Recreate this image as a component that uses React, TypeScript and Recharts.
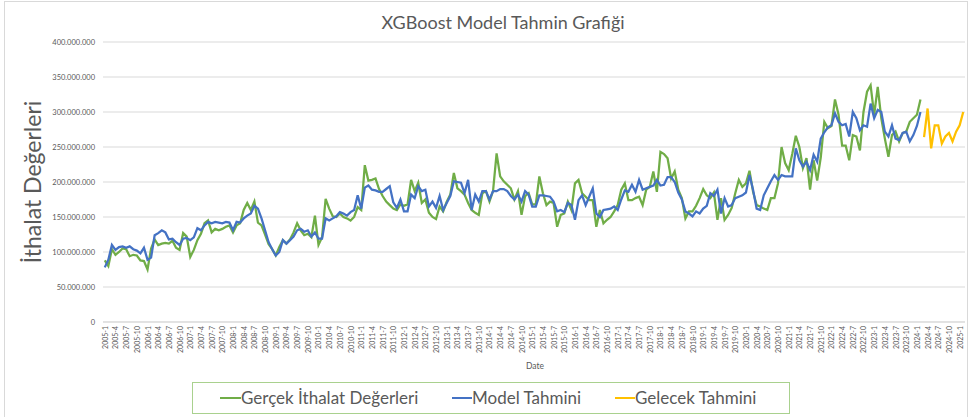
import React from 'react';
import { LineChart, Line, XAxis, YAxis, CartesianGrid } from 'recharts';

// Monthly categories 2005-1 .. 2025-2
const categories: string[] = [];
for (let y = 2005; y <= 2025; y++) {
  for (let m = 1; m <= 12; m++) {
    if (y === 2025 && m > 2) break;
    categories.push(`${y}-${m}`);
  }
}

// Values in millions
const actualValues: number[] = [
  88, 80, 104, 96, 100, 105, 104, 94, 96, 95, 88, 87,
  75, 105, 118, 110, 112, 113, 112, 116, 106, 103, 127, 122,
  93, 103, 117, 126, 141, 145, 128, 133, 131, 133, 136, 138,
  128, 138, 141, 160, 170, 160, 172, 142, 138, 125, 111, 104,
  95, 107, 117, 112, 118, 128, 141, 131, 124, 126, 121, 152,
  110, 121, 176, 162, 151, 150, 155, 150, 148, 145, 150, 164,
  160, 224, 202, 203, 205, 190, 180, 172, 167, 162, 160, 168,
  166, 168, 203, 187, 199, 170, 175, 156, 150, 147, 165, 158,
  172, 182, 213, 191, 187, 182, 170, 160, 156, 153, 184, 187,
  172, 187, 241, 208, 201, 196, 191, 175, 187, 153, 180, 184,
  168, 168, 208, 184, 167, 172, 170, 136, 153, 155, 172, 160,
  198, 203, 184, 179, 174, 174, 136, 160, 141, 146, 150, 158,
  167, 189, 198, 174, 174, 177, 179, 167, 189, 193, 215, 186,
  243, 240, 234, 205, 215, 189, 177, 148, 158, 158, 166, 177,
  190, 181, 177, 185, 146, 177, 146, 153, 163, 184, 203, 193,
  198, 216, 186, 167, 165, 162, 160, 177, 177, 198, 250, 227,
  217, 240, 266, 250, 220, 234, 189, 231, 202, 235, 286, 277,
  280, 318, 296, 252, 252, 231, 267, 265, 245, 300, 329, 338,
  296, 336, 291, 262, 236, 267, 272, 258, 270, 272, 286, 291,
  296, 318,
];

const modelValues: number[] = [
  78, 89, 110, 103, 107, 108, 106, 108, 104, 102, 98, 106,
  89, 92, 124, 127, 131, 128, 118, 119, 114, 110, 119, 120,
  117, 121, 134, 131, 138, 143, 141, 143, 142, 141, 143, 142,
  131, 143, 142, 148, 152, 155, 166, 162, 148, 131, 114, 104,
  95, 100, 117, 112, 117, 122, 131, 133, 129, 131, 122, 128,
  119, 119, 148, 145, 148, 151, 157, 155, 152, 157, 160, 181,
  162, 192, 195, 189, 188, 186, 186, 190, 194, 171, 163, 175,
  158, 158, 182, 177, 194, 187, 189, 165, 172, 163, 180, 160,
  170, 180, 201, 200, 199, 184, 203, 160, 182, 172, 187, 187,
  175, 187, 187, 190, 190, 187, 180, 175, 182, 172, 187, 182,
  165, 165, 181, 181, 180, 179, 172, 158, 160, 157, 170, 167,
  146, 174, 181, 167, 179, 191, 155, 150, 160, 161, 162, 165,
  160, 175, 188, 186, 196, 186, 203, 189, 191, 193, 195, 203,
  195, 196, 207, 207, 200, 185, 175, 158, 155, 151, 158, 155,
  162, 166, 184, 180, 189, 155, 177, 165, 167, 177, 179, 181,
  185, 210, 189, 162, 160, 181, 191, 201, 210, 203, 210, 208,
  208, 208, 248, 231, 222, 229, 217, 239, 229, 262, 271, 278,
  281, 298, 286, 281, 283, 265, 300, 291, 274, 281, 279, 312,
  291, 303, 300, 272, 265, 281, 262, 260, 270, 272, 258, 267,
  280, 300,
];

const futureValues: number[] = [264, 305, 248, 281, 281, 255, 265, 270, 258, 272, 281, 300];

const yTicks: number[] = [0, 50, 100, 150, 200, 250, 300, 350, 400];

const seriesNames = ['Gerçek İthalat Değerleri', 'Model Tahmini', 'Gelecek Tahmini'];
const seriesColors = ['#70AD47', '#4472C4', '#FFC000'];

const futureStart = categories.length - futureValues.length;

const data = categories.map((c, i) => ({
  date: c,
  actual: i < actualValues.length ? actualValues[i] : null,
  model: i < modelValues.length ? modelValues[i] : null,
  future: i >= futureStart ? futureValues[i - futureStart] : null,
}));

const FONT = 'Lato, "Open Sans", sans-serif';

const fmtY = (v: number) => (v === 0 ? '0' : `${v}.000.000`);

const XTick = (props: any) => {
  const { x, y, payload } = props;
  return (
    <text
      x={x}
      y={y}
      transform={`rotate(-90 ${x} ${y})`}
      textAnchor="end"
      dominantBaseline="central"
      fontSize={7}
      fill="#595959"
      fontFamily={FONT}
    >
      {payload.value}
    </text>
  );
};

const legendItems = [
  { name: seriesNames[0], color: seriesColors[0], lineX: 220, textX: 241 },
  { name: seriesNames[1], color: seriesColors[1], lineX: 452, textX: 472 },
  { name: seriesNames[2], color: seriesColors[2], lineX: 615, textX: 635 },
];

export default function App() {
  return (
    <div
      style={{
        position: 'absolute',
        left: 0,
        top: 0,
        width: 970,
        height: 417,
        background: '#fff',
        fontFamily: FONT,
        overflow: 'hidden',
      }}
    >
      <div
        style={{
          position: 'absolute',
          left: 4,
          top: 1,
          width: 964,
          height: 420,
          border: '1px solid #d9d9d9',
          boxSizing: 'border-box',
        }}
      />
      <LineChart
        width={970}
        height={417}
        data={data}
        margin={{ top: 42, right: 5, bottom: 55, left: 0 }}
        style={{ position: 'absolute', left: 0, top: 0 }}
      >
        <CartesianGrid vertical={false} stroke="#d9d9d9" strokeWidth={1} />
        <XAxis
          dataKey="date"
          interval={2}
          height={40}
          tickSize={2}
          tickMargin={2}
          tickLine={false}
          axisLine={{ stroke: '#d9d9d9' }}
          tick={<XTick />}
          padding={{ left: 1.78, right: 1.78 }}
        />
        <YAxis
          domain={[0, 400]}
          ticks={yTicks}
          width={103}
          axisLine={false}
          tickLine={false}
          tickFormatter={fmtY}
          tick={{ fontSize: 7.5, fill: '#595959', fontFamily: FONT }}
          interval={0}
        />
        <Line
          type="linear"
          dataKey="actual"
          name={seriesNames[0]}
          stroke={seriesColors[0]}
          strokeWidth={2.25}
          dot={false}
          isAnimationActive={false}
        />
        <Line
          type="linear"
          dataKey="model"
          name={seriesNames[1]}
          stroke={seriesColors[1]}
          strokeWidth={2.25}
          dot={false}
          isAnimationActive={false}
        />
        <Line
          type="linear"
          dataKey="future"
          name={seriesNames[2]}
          stroke={seriesColors[2]}
          strokeWidth={2.25}
          dot={false}
          isAnimationActive={false}
        />
      </LineChart>

      <div
        style={{
          position: 'absolute',
          left: 303,
          width: 400,
          top: 10,
          textAlign: 'center',
          fontSize: 18,
          color: '#595959',
          lineHeight: '24px',
        }}
      >
        XGBoost Model Tahmin Grafiği
      </div>

      <div
        style={{
          position: 'absolute',
          left: 32 - 120,
          top: 182 - 15,
          width: 240,
          height: 30,
          lineHeight: '30px',
          textAlign: 'center',
          fontSize: 23,
          color: '#595959',
          transform: 'rotate(-90deg)',
        }}
      >
        İthalat Değerleri
      </div>

      <div
        style={{
          position: 'absolute',
          left: 485,
          width: 100,
          top: 359,
          textAlign: 'center',
          fontSize: 8.5,
          color: '#595959',
          lineHeight: '14px',
        }}
      >
        Date
      </div>

      <div
        style={{
          position: 'absolute',
          left: 192,
          top: 382,
          width: 598,
          height: 32,
          border: '1.5px solid #A9D18E',
          boxSizing: 'border-box',
        }}
      />
      {legendItems.map((it) => (
        <React.Fragment key={it.name}>
          <div
            style={{
              position: 'absolute',
              left: it.lineX,
              top: 397,
              width: it.textX - it.lineX,
              height: 2,
              background: it.color,
            }}
          />
          <div
            style={{
              position: 'absolute',
              left: it.textX,
              top: 386,
              fontSize: 17,
              lineHeight: '24px',
              color: '#595959',
              whiteSpace: 'nowrap',
            }}
          >
            {it.name}
          </div>
        </React.Fragment>
      ))}
    </div>
  );
}
